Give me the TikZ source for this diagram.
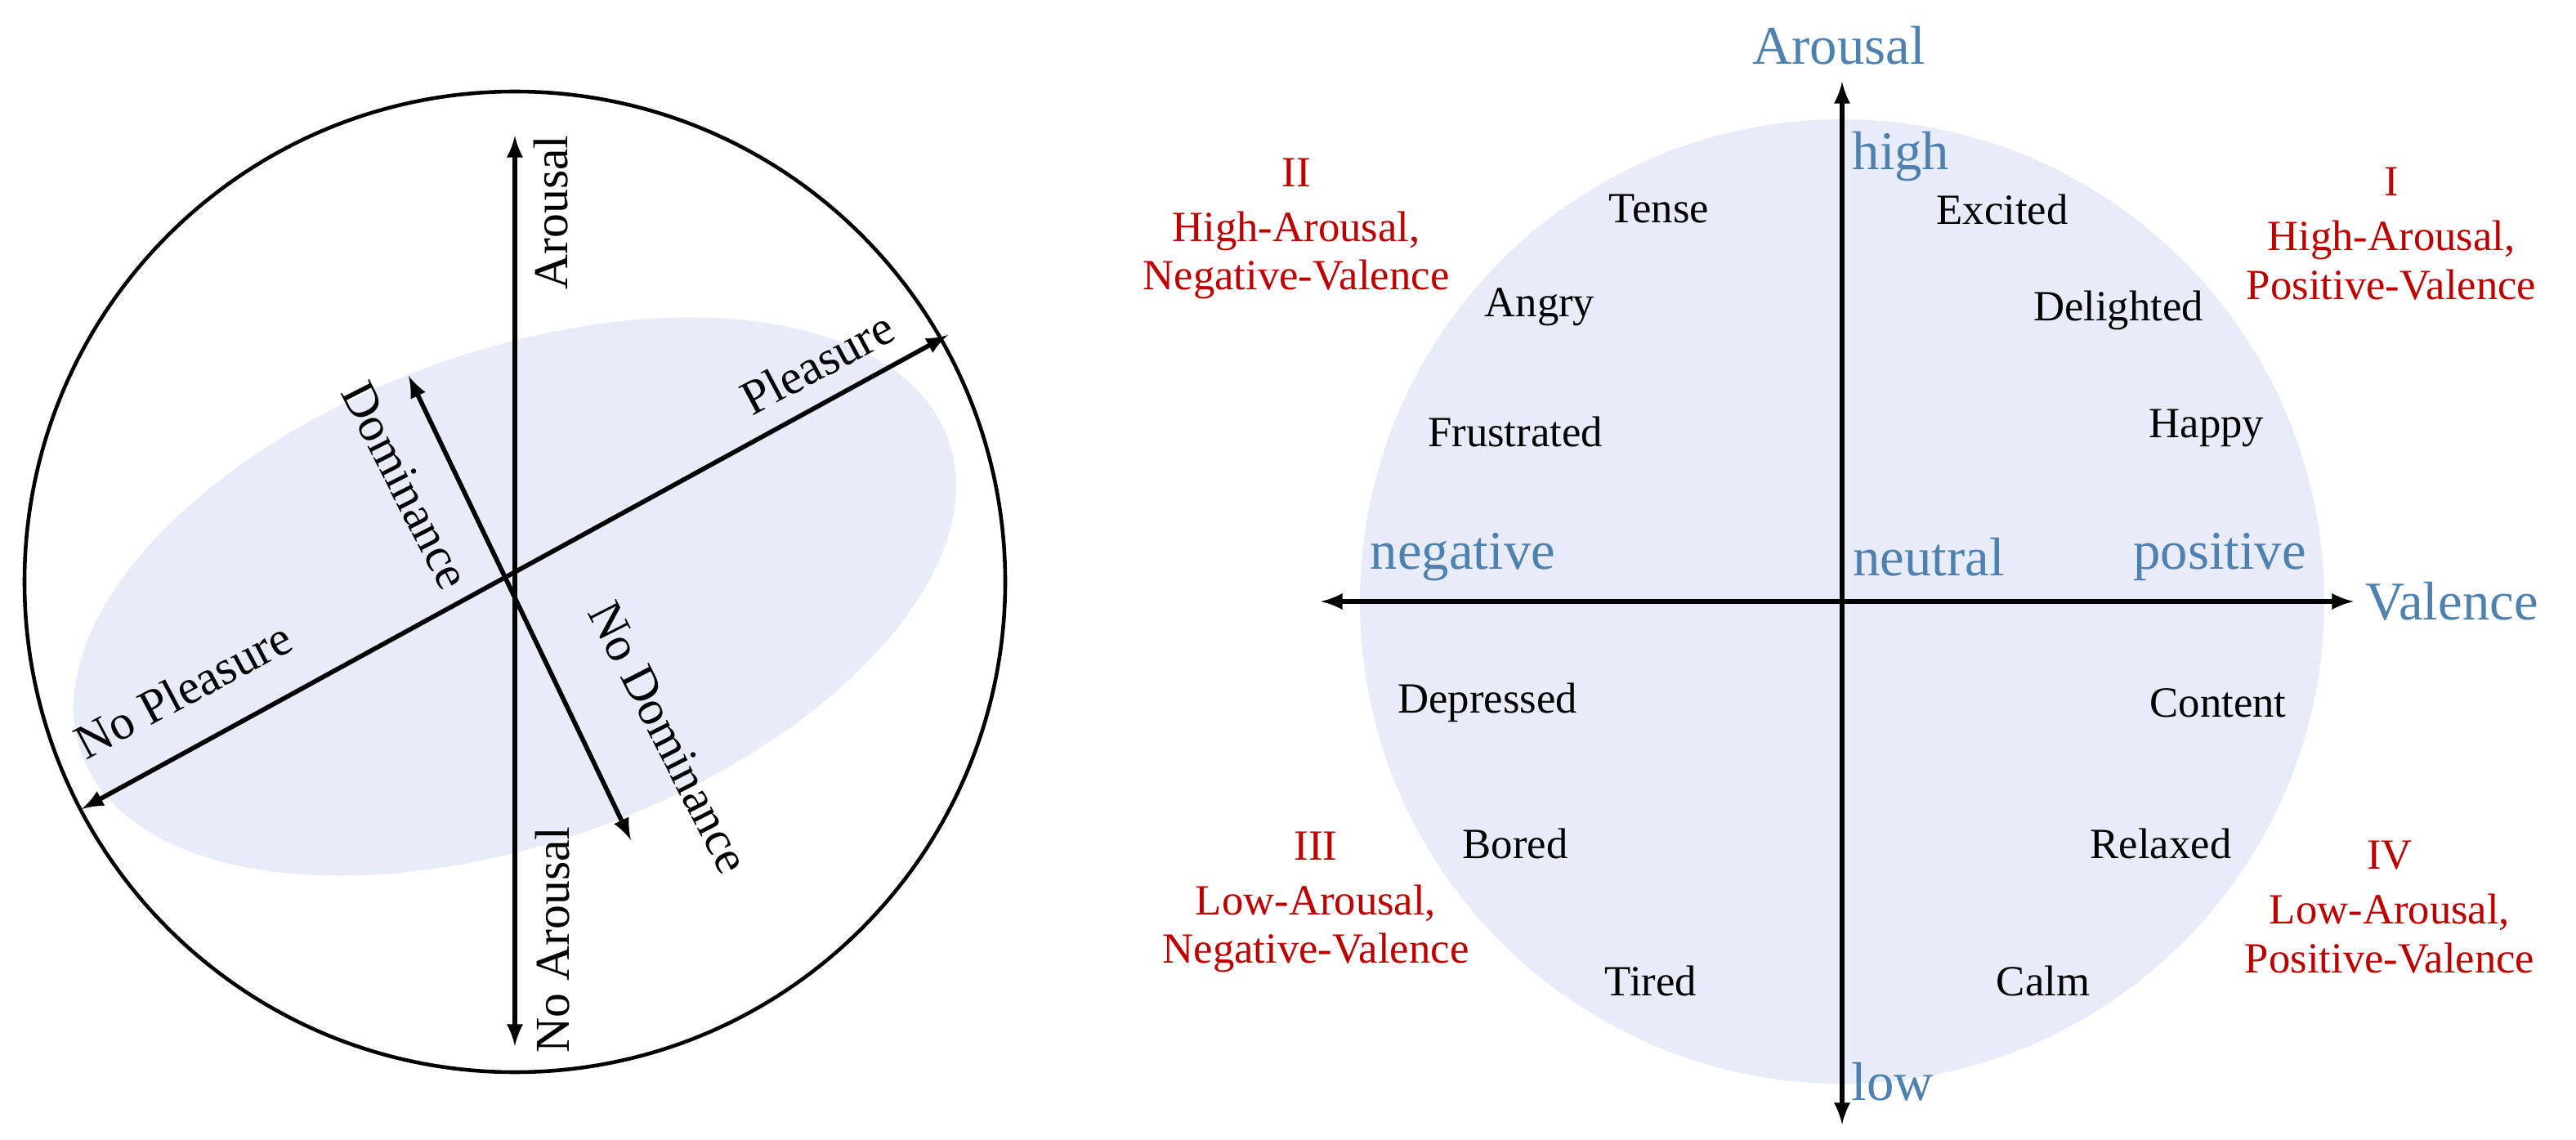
\documentclass[tikz,border=0pt]{standalone}
\usepackage{fontspec}
\setmainfont{Liberation Serif}
\begin{document}
\begin{tikzpicture}[x=0.02cm,y=-0.02cm,
 ax/.style={line width=1.6pt,<->,>=latex},
 w/.style={font=\fontsize{15}{17}\selectfont},
 lw/.style={font=\fontsize{17}{19}\selectfont},
 b/.style={font=\fontsize{19}{21}\selectfont,text=blu},
 r/.style={font=\fontsize{15}{17}\selectfont,text=red!75!black,align=center}]
\definecolor{lav}{RGB}{232,236,248}
\definecolor{blu}{RGB}{79,129,176}
\useasboundingbox (0,0) rectangle (1576,697.5);
% left
\fill[lav,rotate around={20:(315,365)}] (315,365) ellipse (282 and 150);
\draw[line width=1.3pt] (315,356) circle (300);
\coordinate (o) at (315,365);
\coordinate (au) at (315,83); \coordinate (ad) at (315,640);
\coordinate (pu) at (580,205); \coordinate (pd) at (50,495);
\coordinate (du) at (250,230); \coordinate (dd) at (386,514);
\draw[ax] (ad) -- (au);
\draw[ax] (pd) -- (pu);
\draw[ax] (dd) -- (du);
\node[lw,rotate=90] (la) at (337,130) {Arousal};
\node[lw,rotate=90] (lna) at (338,575) {No Arousal};
\node[lw,rotate=28] (lp) at (500,222) {Pleasure};
\node[lw,rotate=28] (lnp) at (112,422) {No Pleasure};
\node[lw,rotate=-63] (ld) at (248,297) {Dominance};
\node[lw,rotate=-63] (lnd) at (409,451) {No Dominance};
% right
\fill[lav] (1127,368) circle (295);
\coordinate (vl) at (808,368); \coordinate (vr) at (1440,368);
\coordinate (vt) at (1127,50); \coordinate (vb) at (1127,688);
\draw[ax] (vl) -- (vr);
\draw[ax] (vb) -- (vt);
\node[b] (tA) at (1125,28) {Arousal};
\node[b] (tV) at (1500,368) {Valence};
\node[b] (th) at (1163,96) {high};
\node[b] (tl) at (1158,662) {low};
\node[b] (tn) at (895,341) {negative};
\node[b] (tz) at (1180,341) {neutral};
\node[b] (tp) at (1358,341) {positive};
\node[w] (e1) at (1015,128) {Tense};
\node[w] (e2) at (1225,128) {Excited};
\node[w] (e3) at (942,188) {Angry};
\node[w] (e4) at (1296,190) {Delighted};
\node[w] (e5) at (927,264) {Frustrated};
\node[w] (e6) at (1350,262) {Happy};
\node[w] (e7) at (910,430) {Depressed};
\node[w] (e8) at (1357,430) {Content};
\node[w] (e9) at (927,516) {Bored};
\node[w] (e10) at (1322,516) {Relaxed};
\node[w] (e11) at (1010,600) {Tired};
\node[w] (e12) at (1250,600) {Calm};
\node[r] (q2) at (793,140) {II\\[2pt]High-Arousal,\\Negative-Valence};
\node[r] (q1) at (1463,143) {I\\[2pt]High-Arousal,\\Positive-Valence};
\node[r] (q3) at (805,552) {III\\[2pt]Low-Arousal,\\Negative-Valence};
\node[r] (q4) at (1462,555) {IV\\[2pt]Low-Arousal,\\Positive-Valence};
\end{tikzpicture}
\end{document}
